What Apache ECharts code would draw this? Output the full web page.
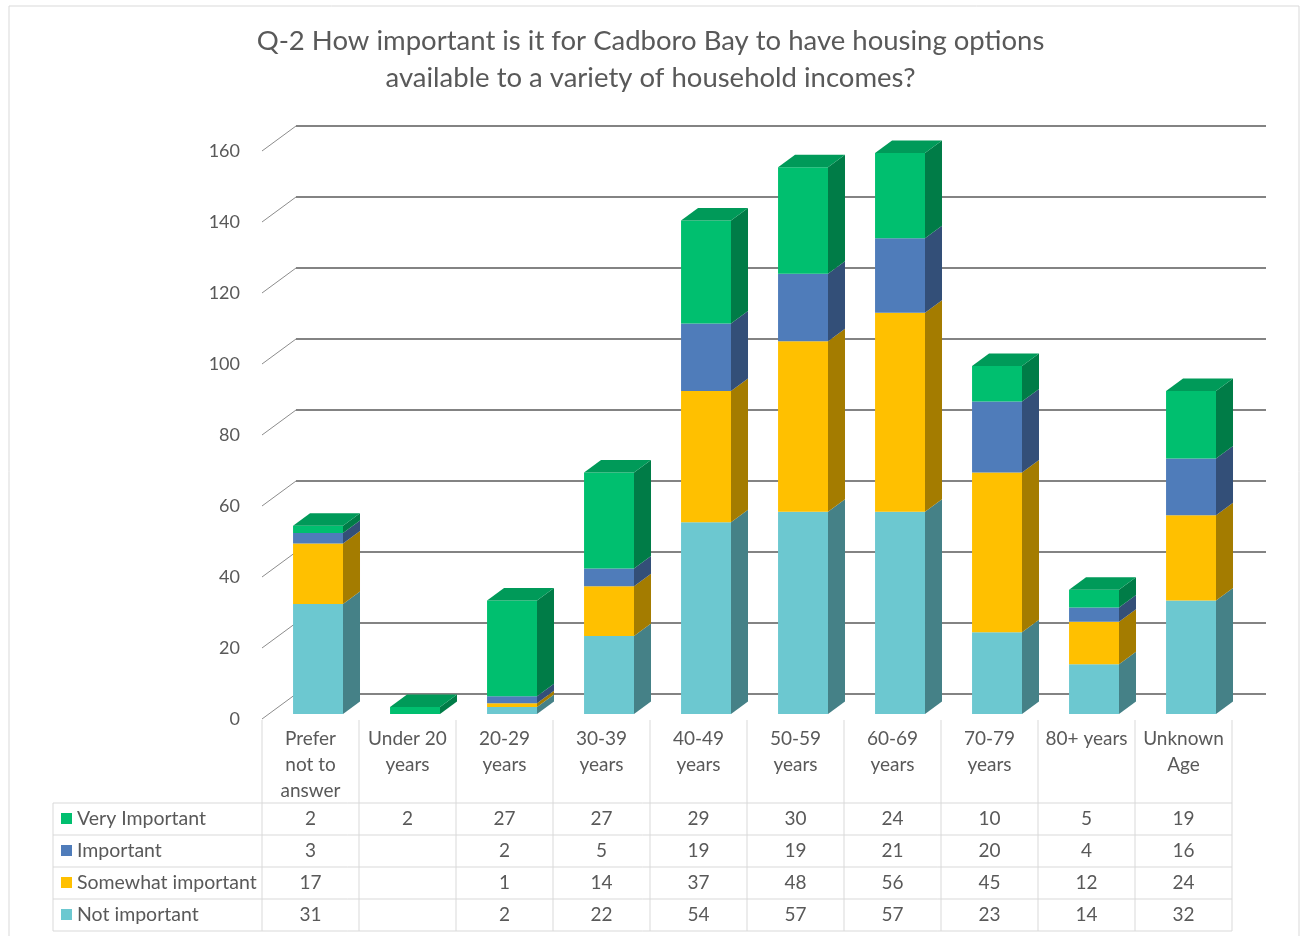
<!DOCTYPE html>
<html>
<head>
<meta charset="utf-8">
<script src="https://cdn.jsdelivr.net/npm/echarts/dist/echarts.min.js"></script>
<style>
  html, body { margin: 0; padding: 0; background: #fff; }
  #chart { width: 1301px; height: 936px; }
</style>
</head>
<body>
<div id="chart"></div>
<script>
// data
const categories = ['Prefer\nnot to\nanswer', 'Under 20\nyears', '20-29\nyears', '30-39\nyears', '40-49\nyears',
    '50-59\nyears', '60-69\nyears', '70-79\nyears', '80+ years', 'Unknown\nAge'];
const veryImportant = [2, 2, 27, 27, 29, 30, 24, 10, 5, 19];
const important = [3, null, 2, 5, 19, 19, 21, 20, 4, 16];
const somewhatImportant = [17, null, 1, 14, 37, 48, 56, 45, 12, 24];
const notImportant = [31, null, 2, 22, 54, 57, 57, 23, 14, 32];
const yTicks = [0, 20, 40, 60, 80, 100, 120, 140, 160];

const TEXT = '#595959';
const FONT = 'Lato, "Noto Sans", sans-serif';
// depth of the back wall (px)
const WALL_DX = 34;
const WALL_DY = 25;

// bottom to top
const seriesDefs = [
    { name: 'Not important', data: notImportant, front: '#6CC8D0', side: '#458187', top: '#5AAEB5' },
    { name: 'Somewhat important', data: somewhatImportant, front: '#FFC000', side: '#A47C00', top: '#D9A300' },
    { name: 'Important', data: important, front: '#4F7CBA', side: '#334F78', top: '#41679C' },
    { name: 'Very Important', data: veryImportant, front: '#00BF6F', side: '#007C47', top: '#009A59' }
];

// stacked ranges
const base = categories.map(() => 0);
const topIndex = categories.map(() => -1);
const stacks = seriesDefs.map((d, s) => d.data.map((v, i) => {
    const lo = base[i];
    base[i] += v || 0;
    if (v) topIndex[i] = s;
    return [i, lo, base[i], 0];
}));
stacks.forEach((rows, s) => rows.forEach((r, i) => { if (topIndex[i] === s) r[3] = 1; }));

function barRenderer(def) {
    return function (params, api) {
        const i = api.value(0), lo = api.value(1), hi = api.value(2), isTop = api.value(3);
        if (hi <= lo) return;
        const band = api.size([1, 0])[0];
        const c0 = api.coord([i, lo]);
        const c1 = api.coord([i, hi]);
        const x0 = c0[0] - band * 0.25 + WALL_DX * 0.2;
        const x1 = x0 + band * 0.515;
        const y0 = c0[1] - WALL_DY * 0.2;
        const y1 = c1[1] - WALL_DY * 0.2;
        const dx = WALL_DX * 0.5, dy = WALL_DY * 0.5;
        const children = [
            { type: 'rect', shape: { x: x0, y: y1, width: x1 - x0, height: y0 - y1 }, style: { fill: def.front } },
            { type: 'polygon', shape: { points: [[x1, y0], [x1, y1], [x1 + dx, y1 - dy], [x1 + dx, y0 - dy]] }, style: { fill: def.side } }
        ];
        if (isTop) {
            children.push({ type: 'polygon', shape: { points: [[x0, y1], [x1, y1], [x1 + dx, y1 - dy], [x0 + dx, y1 - dy]] }, style: { fill: def.top } });
        }
        return { type: 'group', children: children };
    };
}

const chart = echarts.init(document.getElementById('chart'));

chart.setOption({
    animation: false,
    title: {
        text: 'Q-2 How important is it for Cadboro Bay to have housing options\navailable to a variety of household incomes?',
        left: 'center',
        top: 18,
        textStyle: { fontFamily: FONT, fontSize: 27.5, fontWeight: 'normal', color: TEXT, lineHeight: 37 }
    },
    grid: { left: 262, right: 69, top: 151, bottom: 217 },
    xAxis: {
        type: 'category',
        data: categories,
        axisLine: { show: false },
        axisTick: { show: false },
        axisLabel: { interval: 0, margin: 7, fontFamily: FONT, fontSize: 19, lineHeight: 26, color: TEXT, verticalAlign: 'top' }
    },
    yAxis: {
        type: 'value',
        min: 0,
        max: 160,
        interval: 20,
        axisLine: { show: false },
        axisTick: { show: false },
        splitLine: { show: false },
        axisLabel: { margin: 22, fontFamily: FONT, fontSize: 18, color: TEXT }
    },
    series: [
        {
            // back wall grid lines + slanted connectors
            type: 'custom',
            silent: true,
            z: 1,
            data: yTicks.map(v => [0, v]),
            renderItem: function (params, api) {
                const y = api.coord([0, api.value(1)])[1];
                const left = params.coordSys.x;
                const right = left + params.coordSys.width;
                return {
                    type: 'group',
                    children: [
                        { type: 'line', shape: { x1: left, y1: y, x2: left + WALL_DX, y2: y - WALL_DY }, style: { stroke: '#8C8C8C', lineWidth: 1 } },
                        { type: 'line', shape: { x1: left + WALL_DX, y1: y - WALL_DY, x2: right + WALL_DX, y2: y - WALL_DY }, style: { stroke: '#5A5A5A', lineWidth: 1.6 } }
                    ]
                };
            }
        }
    ].concat(seriesDefs.map((d, s) => ({
        name: d.name,
        type: 'custom',
        z: 2,
        data: stacks[s],
        renderItem: barRenderer(d)
    })))
});

// data table under the plot
const cx = categories.map((c, i) => chart.convertToPixel({ xAxisIndex: 0 }, i));
const half = (cx[1] - cx[0]) / 2;
const tableLeft = 53;
const tableTop = 720;
const headerBottom = 803;
const rowH = 32;
const tableRight = cx[cx.length - 1] + half;
const tableRows = [seriesDefs[3], seriesDefs[2], seriesDefs[1], seriesDefs[0]];
const tableBottom = headerBottom + rowH * tableRows.length;
const LINE = '#D9D9D9';

const graphics = [
    { type: 'rect', shape: { x: 9, y: 6, width: 1290, height: 945 }, style: { fill: 'none', stroke: LINE, lineWidth: 1 }, z: 0 }
];
// vertical lines
cx.forEach((x, i) => {
    graphics.push({ type: 'line', shape: { x1: x - half, y1: tableTop, x2: x - half, y2: tableBottom }, style: { stroke: LINE, lineWidth: 1 } });
});
graphics.push({ type: 'line', shape: { x1: tableRight, y1: tableTop, x2: tableRight, y2: tableBottom }, style: { stroke: LINE, lineWidth: 1 } });
graphics.push({ type: 'line', shape: { x1: tableLeft, y1: headerBottom, x2: tableLeft, y2: tableBottom }, style: { stroke: LINE, lineWidth: 1 } });
// horizontal lines
for (let r = 0; r <= tableRows.length; r++) {
    const y = headerBottom + r * rowH;
    graphics.push({ type: 'line', shape: { x1: tableLeft, y1: y, x2: tableRight, y2: y }, style: { stroke: LINE, lineWidth: 1 } });
}
// rows
tableRows.forEach((d, r) => {
    const yc = headerBottom + r * rowH + rowH / 2;
    graphics.push({ type: 'rect', shape: { x: 61, y: yc - 6, width: 11, height: 11 }, style: { fill: d.front } });
    graphics.push({
        type: 'text', x: 77, y: yc,
        style: { text: d.name, fontFamily: FONT, fontSize: 19.5, fill: TEXT, verticalAlign: 'middle', align: 'left' }
    });
    d.data.forEach((v, i) => {
        if (v == null) return;
        graphics.push({
            type: 'text', x: cx[i], y: yc,
            style: { text: String(v), fontFamily: FONT, fontSize: 19, fill: TEXT, verticalAlign: 'middle', align: 'center' }
        });
    });
});

chart.setOption({ graphic: graphics });

window.addEventListener('resize', function () {
    chart.resize();
});
</script>
</body>
</html>
